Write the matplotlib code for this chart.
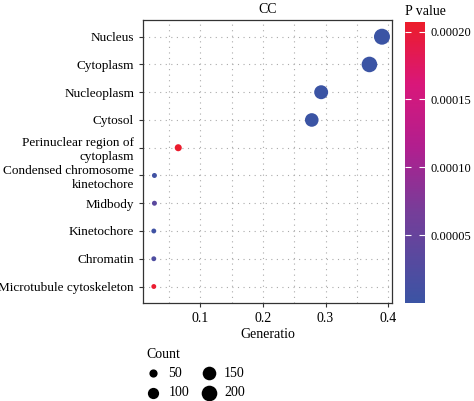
import matplotlib.pyplot as plt
import numpy as np
from matplotlib.colors import LinearSegmentedColormap
from matplotlib.ticker import MultipleLocator

# GO cellular component terms, top to bottom
terms = ['Nucleus', 'Cytoplasm', 'Nucleoplasm', 'Cytosol',
         'Perinuclear region of\ncytoplasm',
         'Condensed chromosome\nkinetochore',
         'Midbody', 'Kinetochore', 'Chromatin', 'Microtubule cytoskeleton']
gene_ratio = [0.390, 0.370, 0.293, 0.278, 0.065, 0.027, 0.027, 0.026, 0.026, 0.026]
counts = [210, 199, 158, 150, 35, 14, 14, 13, 13, 13]
pvalues = [1e-7, 2e-7, 1e-7, 1e-7, 0.000205, 8e-6, 3.5e-5, 5e-6, 2.2e-5, 0.000203]

legend_counts = [50, 100, 150, 200]
cbar_ticks = [0.00005, 0.00010, 0.00015, 0.00020]


def size_of(c):
    # marker area grows linearly with the count
    return 4.4 + 0.61 * np.asarray(c)


plt.rcParams['font.family'] = ['Liberation Serif', 'DejaVu Serif']
plt.rcParams['font.size'] = 9.5

cmap = LinearSegmentedColormap.from_list(
    'pv', [(0.0, '#3b54a4'), (0.33, '#773d99'), (0.55, '#b01f8f'),
           (0.78, '#d9177a'), (1.0, '#ec1c2a')])

fig = plt.figure(figsize=(4.74, 4.01), dpi=100)
ax = fig.add_axes([0.302, 0.244, 0.525, 0.706])

ypos = np.arange(len(terms))[::-1]
sc = ax.scatter(gene_ratio, ypos, s=size_of(counts), c=pvalues, cmap=cmap,
                vmin=0, vmax=0.000207, zorder=3, linewidths=0)

ax.set_yticks(ypos)
ax.set_yticklabels(terms, multialignment='right')
ax.set_ylim(-0.6, len(terms) - 0.4)
ax.set_xlim(0.009, 0.406)
ax.xaxis.set_major_locator(MultipleLocator(0.1))
ax.xaxis.set_minor_locator(MultipleLocator(0.05))
ax.xaxis.set_major_formatter(plt.FuncFormatter(lambda v, p: f'{v:g}'))
ax.tick_params(axis='both', length=3, width=0.8, color='#333333', labelcolor='black')
ax.tick_params(axis='x', labelsize=10)
ax.tick_params(axis='x', which='minor', length=0)
ax.grid(True, which='both', axis='x', color='#aaaaaa', linestyle=(0, (1, 4)), linewidth=0.8)
ax.grid(True, which='major', axis='y', color='#aaaaaa', linestyle=(0, (1, 4)), linewidth=0.8)
for sp in ax.spines.values():
    sp.set_color('#333333')
    sp.set_linewidth(0.9)
ax.set_title('CC', fontsize=10, pad=5)
ax.set_xlabel('Generatio', fontsize=10, labelpad=2)

cax = fig.add_axes([0.854, 0.244, 0.042, 0.701])
cb = fig.colorbar(sc, cax=cax, ticks=cbar_ticks)
cb.ax.set_yticklabels([f'{t:.5f}' for t in cbar_ticks])
cb.outline.set_visible(False)
cb.ax.tick_params(direction='in', color='white', length=4, width=0.8,
                  left=True, right=True, labelsize=9, pad=4)
cb.ax.set_title('P value', fontsize=10, loc='left', pad=5)

handles = [ax.scatter([], [], s=size_of(c), color='black', linewidths=0) for c in legend_counts]
leg = fig.legend(handles, [str(c) for c in legend_counts], title='Count', ncol=2,
                 loc='upper left', bbox_to_anchor=(0.294, 0.15), frameon=False,
                 fontsize=10, title_fontsize=10, handlelength=1.0, handletextpad=0.6,
                 columnspacing=0.9, labelspacing=0.45, borderpad=0)
leg._legend_box.align = 'left'

fig.savefig('out.png', dpi=100)
